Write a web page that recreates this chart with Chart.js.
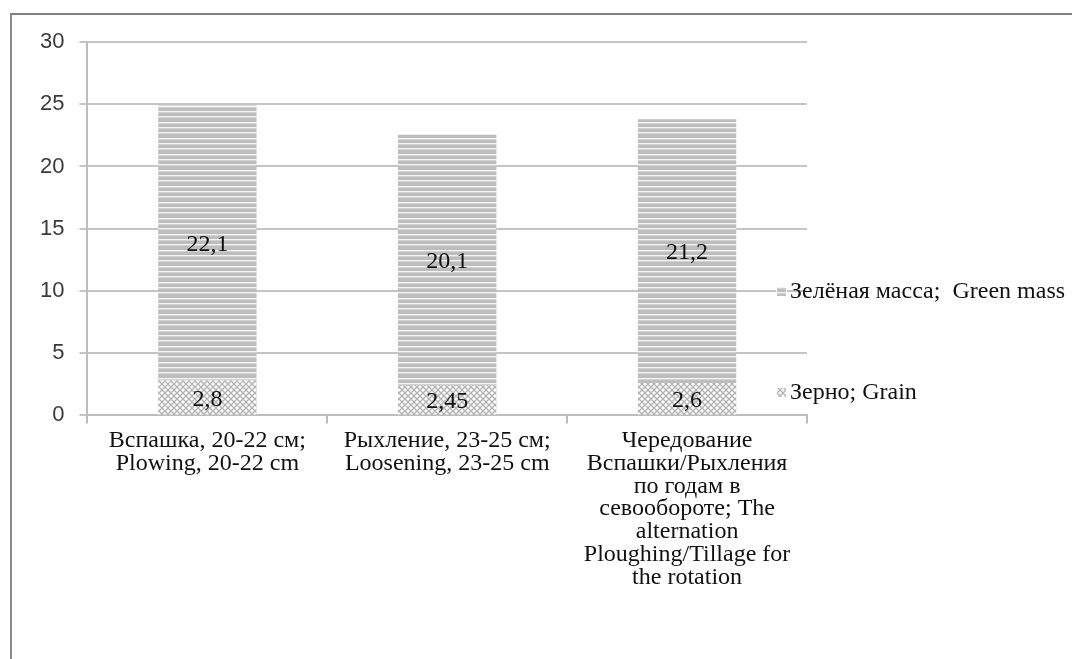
<!DOCTYPE html>
<html>
<head>
<meta charset="utf-8">
<script src="https://cdn.jsdelivr.net/npm/chart.js@4"></script>
<style>
  html, body { margin: 0; padding: 0; background: #fff; }
  #wrap { position: relative; width: 1072px; height: 659px; overflow: hidden; }
  #frame {
    position: absolute; left: 10px; top: 13px; width: 1100px; height: 700px;
    border-left: 2px solid #8a8a8a; border-top: 2px solid #808080;
  }
  canvas { position: absolute; left: 0; top: 0; }
</style>
</head>
<body>
<div id="wrap">
  <div id="frame"></div>
  <canvas id="chart" width="1072" height="659"></canvas>
</div>
<script>
// Data
const categories = [
  ["Вспашка, 20-22 см;", "Plowing, 20-22 cm"],
  ["Рыхление, 23-25 см;", "Loosening, 23-25 cm"],
  ["Чередование", "Вспашки/Рыхления", "по годам в", "севообороте; The", "alternation", "Ploughing/Tillage for", "the rotation"]
]
const grainValues = [2.8, 2.45, 2.6]
const greenMassValues = [22.1, 20.1, 21.2]
const seriesLabels = ["Зерно; Grain", "Зелёная масса;  Green mass"]
const yTicks = [0, 5, 10, 15, 20, 25, 30]

const SERIF = "Liberation Serif"
const SANS = "Liberation Sans"

// hatch patterns like the Excel fills
function stripePattern() {
  // three thin white gaps every 16px -> ~5.3px stripe period
  const c = document.createElement("canvas")
  c.width = 4; c.height = 16
  const g = c.getContext("2d")
  g.fillStyle = "#bdbdbd"
  g.fillRect(0, 0, 4, 16)
  g.fillStyle = "#f4f4f4"
  g.fillRect(0, 4, 4, 1)
  g.fillRect(0, 10, 4, 1)
  g.fillRect(0, 15, 4, 1)
  g.fillStyle = "#d2d2d2"
  g.fillRect(0, 0, 4, 1)
  g.fillRect(0, 5, 4, 1)
  g.fillRect(0, 11, 4, 1)
  return g.createPattern(c, "repeat")
}

function crossPattern() {
  const c = document.createElement("canvas")
  c.width = 6; c.height = 6
  const g = c.getContext("2d")
  g.fillStyle = "#ffffff"
  g.fillRect(0, 0, 6, 6)
  g.strokeStyle = "#b4b4b4"
  g.lineWidth = 1.4
  g.beginPath()
  g.moveTo(0, 0); g.lineTo(6, 6)
  g.moveTo(6, 0); g.lineTo(0, 6)
  g.stroke()
  return g.createPattern(c, "repeat")
}

const grainFill = crossPattern()
const greenFill = stripePattern()

// numbers in the middle of each segment, comma decimals
const segmentLabels = {
  id: "segmentLabels",
  afterDatasetsDraw(chart) {
    const ctx = chart.ctx
    ctx.save()
    ctx.font = "24px '" + SERIF + "', serif"
    ctx.fillStyle = "#111"
    ctx.textAlign = "center"
    ctx.textBaseline = "middle"
    chart.data.datasets.forEach((ds, i) => {
      const meta = chart.getDatasetMeta(i)
      meta.data.forEach((bar, j) => {
        const txt = String(ds.data[j]).replace(".", ",")
        ctx.fillText(txt, bar.x, (bar.y + bar.base) / 2 + 2)
      })
    })
    ctx.restore()
  }
}

// legend sitting to the right, overlapping the end of the gridlines
const sideLegend = {
  id: "sideLegend",
  afterDraw(chart) {
    const ctx = chart.ctx
    const x = chart.chartArea.right - 31
    const rows = [
      { y: 292, fill: greenFill, text: seriesLabels[1] },
      { y: 393, fill: grainFill, text: seriesLabels[0] }
    ]
    ctx.save()
    ctx.font = "24px '" + SERIF + "', serif"
    ctx.textBaseline = "middle"
    ctx.textAlign = "left"
    rows.forEach(r => {
      ctx.fillStyle = "#ffffff"
      ctx.fillRect(x, r.y - 6, 11, 11)
      ctx.fillStyle = r.fill
      ctx.fillRect(x + 1, r.y - 5, 9, 9)
      ctx.fillStyle = "#111"
      ctx.fillText(r.text, x + 14, r.y)
    })
    ctx.restore()
  }
}

new Chart(document.getElementById("chart"), {
  type: "bar",
  data: {
    labels: categories,
    datasets: [
      {
        label: seriesLabels[0],
        data: grainValues,
        backgroundColor: grainFill,
        borderWidth: 0,
        barPercentage: 0.41,
        categoryPercentage: 1
      },
      {
        label: seriesLabels[1],
        data: greenMassValues,
        backgroundColor: greenFill,
        borderWidth: 0,
        barPercentage: 0.41,
        categoryPercentage: 1
      }
    ]
  },
  options: {
    responsive: false,
    animation: false,
    layout: { padding: { left: 25, right: 265, top: 42, bottom: 64 } },
    plugins: {
      legend: { display: false },
      tooltip: { enabled: false }
    },
    scales: {
      x: {
        stacked: true,
        grid: {
          display: true,
          drawOnChartArea: false,
          drawTicks: true,
          tickLength: 8,
          color: "#bdbdbd",
          lineWidth: 2
        },
        border: { color: "#bdbdbd", width: 2 },
        ticks: {
          color: "#111",
          padding: 6,
          maxRotation: 0,
          autoSkip: false,
          font: { family: SERIF, size: 24, lineHeight: 0.95 }
        }
      },
      y: {
        stacked: true,
        min: 0,
        max: 30,
        afterBuildTicks(axis) {
          axis.ticks = yTicks.map(v => ({ value: v }))
        },
        grid: {
          color: "#c4c4c4",
          lineWidth: 2,
          tickLength: 8
        },
        border: { color: "#bdbdbd", width: 2 },
        ticks: {
          color: "#3a3a3a",
          padding: 15,
          font: { family: SANS, size: 22 }
        }
      }
    }
  },
  plugins: [segmentLabels, sideLegend]
})
</script>
</body>
</html>
